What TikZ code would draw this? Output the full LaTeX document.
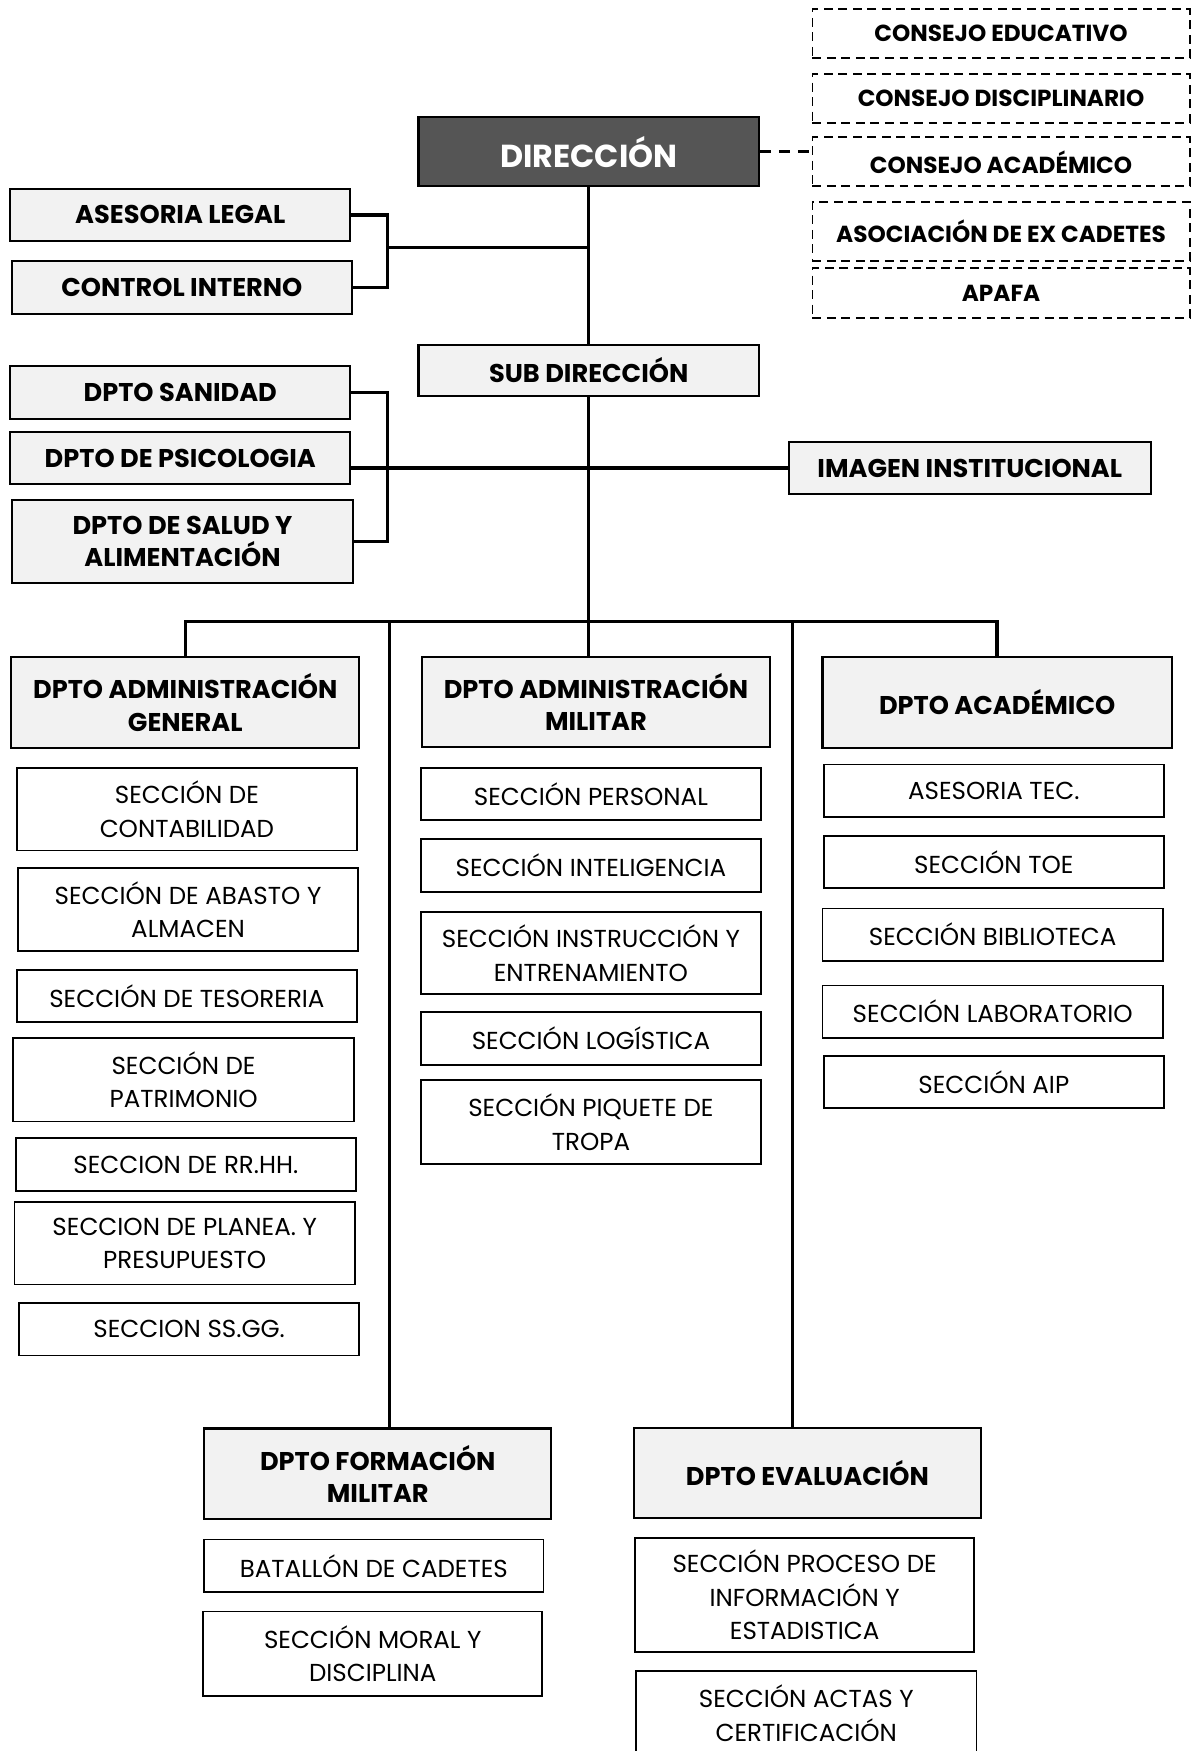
\documentclass[tikz,border=0pt]{standalone}
\usepackage{fontspec}
\setmainfont{Poppins}
\definecolor{dirgray}{HTML}{555555}
\definecolor{boxgray}{HTML}{F2F2F2}

\begin{document}
\begin{tikzpicture}
        [
            x=1pt, y=-1pt,
            dirbox/.style = {draw, shape=rectangle, fill=dirgray, text=white, minimum width=305pt, minimum height=62pt, line width=1.8pt, font=\fontsize{28.5}{32}\selectfont\bfseries},
            deptbox/.style = {draw, shape=rectangle, fill=boxgray, minimum width=305pt, minimum height=47pt, line width=1.8pt, align=center, font=\fontsize{23}{29}\selectfont\bfseries},
            secbox/.style = {draw, shape=rectangle, fill=white, minimum width=305pt, minimum height=47pt, line width=1.6pt, align=center, font=\fontsize{22}{30}\selectfont},
            dashbox/.style = {draw, shape=rectangle, dash pattern=on 8pt off 5pt, minimum width=338pt, minimum height=44pt, line width=1.6pt, font=\fontsize{20.8}{24}\selectfont\bfseries},
            link/.style = {line width=3pt},
        ]
        \useasboundingbox (0,0) rectangle (1072,1569);

        \node[dashbox] (coneduc) at (897,30)      {CONSEJO EDUCATIVO};
        \node[dashbox] (condisc) at (897,88)      {CONSEJO DISCIPLINARIO};
        \node[dashbox] (conacad) at (897,145)     {CONSEJO ACADÉMICO};
        \node[dashbox, minimum height=53pt] (exced) at (897,207.5) {ASOCIACIÓN DE EX CADETES};
        \node[dashbox, minimum height=45pt] (apafa) at (897,262.5) {APAFA};

        \node[dirbox] (dir) at (527.5,136)     {DIRECCIÓN};
        \node[deptbox] (aseso) at (161.5,192.5)   {ASESORIA LEGAL};
        \node[deptbox] (control) at (163,257.5)   {CONTROL INTERNO};
        \node[deptbox, minimum height=46pt] (sub) at (527.5,332) {SUB DIRECCIÓN};

        \node[deptbox] (sanidad) at (161.5,351.5)   {DPTO SANIDAD};
        \node[deptbox] (psico) at (161.5,410.5)     {DPTO DE PSICOLOGIA};
        \node[deptbox, minimum height=74pt] (salud) at (163.5,485) {DPTO DE SALUD Y\\ALIMENTACIÓN};
        \node[deptbox, minimum width=324pt] (imagen) at (869,419.5) {IMAGEN INSTITUCIONAL};

        \node[deptbox, minimum width=312pt, minimum height=81pt] (admgen) at (166,629.5)   {DPTO ADMINISTRACIÓN\\GENERAL};
        \node[deptbox, minimum width=312pt, minimum height=80pt] (admmil) at (534,629)     {DPTO ADMINISTRACIÓN\\MILITAR};
        \node[deptbox, minimum width=313pt, minimum height=81pt] (acad) at (893.5,629.5)   {DPTO ACADÉMICO};

        \node[secbox, minimum height=74pt] (contab) at (167.5,725)   {SECCIÓN DE\\CONTABILIDAD};
        \node[secbox, minimum height=74pt] (abasto) at (168.5,815)   {SECCIÓN DE ABASTO Y\\ALMACEN};
        \node[secbox] (tesor) at (167.5,892.5)                       {SECCIÓN DE TESORERIA};
        \node[secbox, minimum height=75pt] (patrim) at (164.5,967.5) {SECCIÓN DE\\PATRIMONIO};
        \node[secbox] (rrhh) at (166.5,1043.5)                       {SECCION DE RR.HH.};
        \node[secbox, minimum height=74pt] (planea) at (165.5,1114)  {SECCION DE PLANEA. Y\\PRESUPUESTO};
        \node[secbox] (ssgg) at (169.5,1191)                         {SECCION SS.GG.};

        \node[secbox] (personal) at (529.5,711.5)                    {SECCIÓN PERSONAL};
        \node[secbox] (intel) at (529.5,775.5)                       {SECCIÓN INTELIGENCIA};
        \node[secbox, minimum height=74pt] (instr) at (529.5,854)    {SECCIÓN INSTRUCCIÓN Y\\ENTRENAMIENTO};
        \node[secbox] (logis) at (529.5,930.5)                       {SECCIÓN LOGÍSTICA};
        \node[secbox, minimum height=75pt] (piquete) at (529.5,1005.5) {SECCIÓN PIQUETE DE\\TROPA};

        \node[secbox] (asetec) at (890.5,708.5)                      {ASESORIA TEC.};
        \node[secbox] (toe) at (890.5,772.5)                         {SECCIÓN TOE};
        \node[secbox] (biblio) at (889.5,837.5)                      {SECCIÓN BIBLIOTECA};
        \node[secbox] (labo) at (889.5,906.5)                        {SECCIÓN LABORATORIO};
        \node[secbox] (aip) at (890.5,969.5)                         {SECCIÓN AIP};

        \node[deptbox, minimum width=311pt, minimum height=81pt] (formil) at (338.5,1320.5) {DPTO FORMACIÓN\\MILITAR};
        \node[deptbox, minimum width=311pt, minimum height=81pt] (evalua) at (723.5,1320)   {DPTO EVALUACIÓN};

        \node[secbox, minimum width=304pt] (batallon) at (335,1403)  {BATALLÓN DE CADETES};
        \node[secbox, minimum width=304pt, minimum height=76pt] (moral) at (334,1482) {SECCIÓN MORAL Y\\DISCIPLINA};
        \node[secbox, minimum width=304pt, minimum height=102pt] (proceso) at (721,1429) {SECCIÓN PROCESO DE\\INFORMACIÓN Y\\ESTADISTICA};
        \node[secbox, minimum height=75pt] (actas) at (722.5,1535)   {SECCIÓN ACTAS Y\\CERTIFICACIÓN};

        \coordinate (legalbrk) at (347,222);
        \coordinate (deptbrk) at (347,418);
        \coordinate (busL) at (349,557);
        \coordinate (busR) at (710,557);

        \draw [line width=3pt, dash pattern=on 10pt off 7pt] (dir.east) -- (dir.east -| conacad.west);

        \draw [link] (dir.south) -- (sub.north);
        \draw [link] (aseso.east) -| (legalbrk) |- (control.east);
        \draw [link] (legalbrk) -- (legalbrk -| dir.south);

        \draw [link] (sanidad.east) -| (deptbrk) |- (salud.east);
        \draw [link] (psico.east |- imagen.west) -- (imagen.west);

        \draw [link] (sub.south) -- (sub.south |- admmil.north);
        \draw [link] (admgen.north) -- (admgen.north |- busL) -| (acad.north);
        \draw [link] (busL) -- (busL |- formil.north);
        \draw [link] (busR) -- (busR |- evalua.north);
    \end{tikzpicture}
\end{document}
